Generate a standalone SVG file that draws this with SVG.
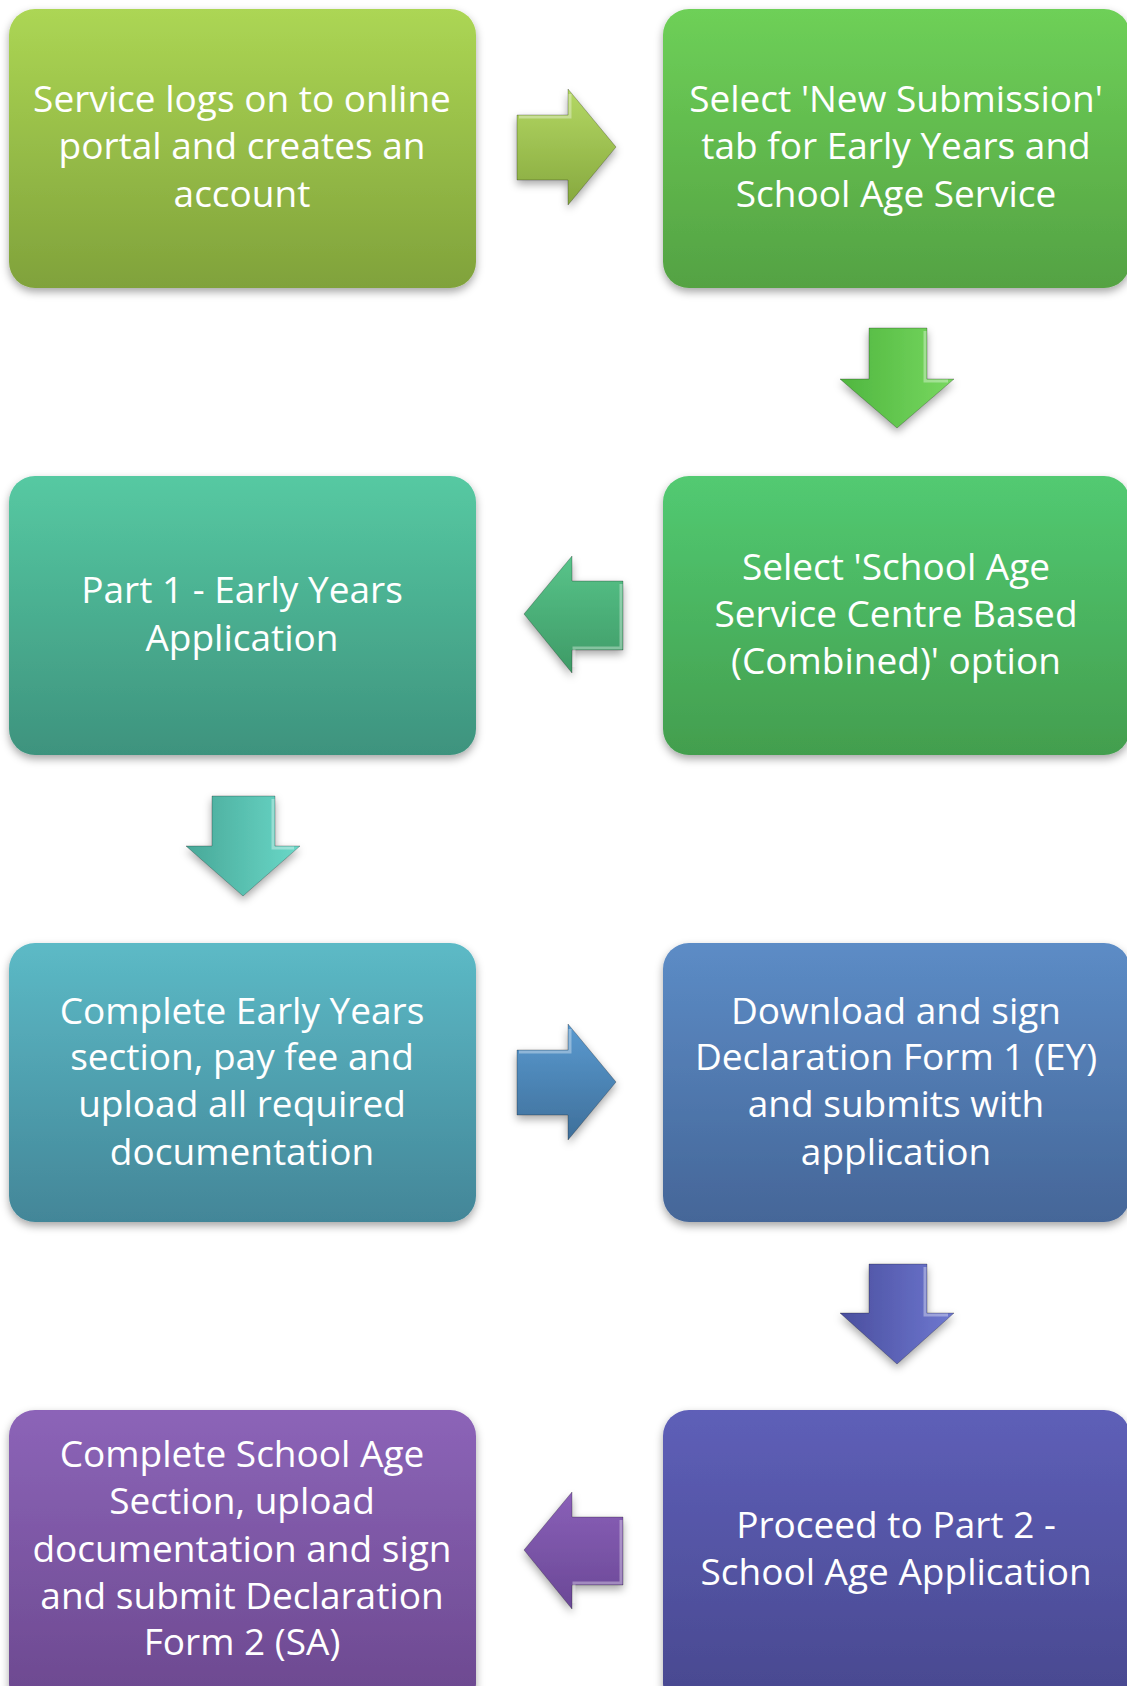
<svg xmlns="http://www.w3.org/2000/svg" width="1127" height="1686" viewBox="0 0 1127 1686">
<defs>
<filter id="sh" x="-10%" y="-10%" width="120%" height="125%"><feDropShadow dx="0" dy="4" stdDeviation="4" flood-color="#000" flood-opacity="0.35"/></filter>
<linearGradient id="g1" x1="0" y1="0" x2="0" y2="1"><stop offset="0" stop-color="#acd654"/><stop offset="1" stop-color="#80a23b"/></linearGradient>
<linearGradient id="g2" x1="0" y1="0" x2="0" y2="1"><stop offset="0" stop-color="#6ed058"/><stop offset="1" stop-color="#54a243"/></linearGradient>
<linearGradient id="g3" x1="0" y1="0" x2="0" y2="1"><stop offset="0" stop-color="#56c9a2"/><stop offset="1" stop-color="#3e937e"/></linearGradient>
<linearGradient id="g4" x1="0" y1="0" x2="0" y2="1"><stop offset="0" stop-color="#52ca72"/><stop offset="1" stop-color="#439e4e"/></linearGradient>
<linearGradient id="g5" x1="0" y1="0" x2="0" y2="1"><stop offset="0" stop-color="#5cbac6"/><stop offset="1" stop-color="#438698"/></linearGradient>
<linearGradient id="g6" x1="0" y1="0" x2="0" y2="1"><stop offset="0" stop-color="#5c8cc6"/><stop offset="1" stop-color="#456698"/></linearGradient>
<linearGradient id="g7" x1="0" y1="0" x2="0" y2="1"><stop offset="0" stop-color="#5e5fb8"/><stop offset="1" stop-color="#48488e"/></linearGradient>
<linearGradient id="g8" x1="0" y1="0" x2="0" y2="1"><stop offset="0" stop-color="#8c64b8"/><stop offset="1" stop-color="#6b488e"/></linearGradient>
<linearGradient id="a1" x1="0" y1="0" x2="0" y2="1"><stop offset="0" stop-color="#b4d864"/><stop offset="1" stop-color="#86a83e"/></linearGradient>
<linearGradient id="a2" x1="0" y1="0" x2="1" y2="0"><stop offset="0" stop-color="#4fb63f"/><stop offset="1" stop-color="#78d860"/></linearGradient>
<linearGradient id="a3" x1="0" y1="0" x2="0" y2="1"><stop offset="0" stop-color="#58c48a"/><stop offset="1" stop-color="#3e9a66"/></linearGradient>
<linearGradient id="a4" x1="0" y1="0" x2="1" y2="0"><stop offset="0" stop-color="#48a898"/><stop offset="1" stop-color="#6ad8c8"/></linearGradient>
<linearGradient id="a5" x1="0" y1="0" x2="0" y2="1"><stop offset="0" stop-color="#5a9ad0"/><stop offset="1" stop-color="#3e6f9a"/></linearGradient>
<linearGradient id="a6" x1="0" y1="0" x2="1" y2="0"><stop offset="0" stop-color="#4a4e9e"/><stop offset="1" stop-color="#6e78d0"/></linearGradient>
<linearGradient id="a7" x1="0" y1="0" x2="0" y2="1"><stop offset="0" stop-color="#8a60b8"/><stop offset="1" stop-color="#6a4896"/></linearGradient>
</defs>
<style>
.box{filter:url(#sh)}
.t{font-family:"Open Sans","Liberation Sans",sans-serif;font-size:37px;fill:#fff;text-anchor:middle}
.arr{stroke:#000;stroke-opacity:0.25;stroke-width:1;filter:url(#sh)}
.hl{fill:none;stroke:#fff;stroke-opacity:0.35;stroke-width:3}
</style>
<g id="connectors">
<g id="c1"><polygon class="arr" fill="url(#a1)" points="517,115 568,115 568,89 616,147 568,205 568,180 517,180"/><polyline class="hl" points="519,117 570,117 570,94"/></g>
<g id="c2"><polygon class="arr" fill="url(#a2)" points="869,328 927,328 927,379 954,379 897,428 840,379 869,379"/><polyline class="hl" points="925,331 925,381 948,381"/></g>
<g id="c3"><polygon class="arr" fill="url(#a3)" points="623,581 572,581 572,556 524,614 572,673 572,650 623,650"/><polyline class="hl" points="621,584 621,648 574,648 574,667"/></g>
<g id="c4"><polygon class="arr" fill="url(#a4)" points="212,796 275,796 275,846 300,846 243,896 186,846 212,846"/><polyline class="hl" points="273,799 273,848 294,848"/></g>
<g id="c5"><polygon class="arr" fill="url(#a5)" points="517,1050 568,1050 568,1024 616,1082 568,1140 568,1115 517,1115"/><polyline class="hl" points="519,1052 570,1052 570,1029"/></g>
<g id="c6"><polygon class="arr" fill="url(#a6)" points="869,1264 927,1264 927,1313 954,1313 897,1364 840,1313 869,1313"/><polyline class="hl" points="925,1267 925,1315 948,1315"/></g>
<g id="c7"><polygon class="arr" fill="url(#a7)" points="623,1517 572,1517 572,1492 524,1550 572,1609 572,1585 623,1585"/><polyline class="hl" points="621,1520 621,1583 574,1583 574,1603"/></g>
</g>
<g id="n1"><rect class="box" x="9" y="9" width="467" height="279" rx="26" fill="url(#g1)"/><text class="t" x="242" y="112">Service logs on to online</text><text class="t" x="242" y="159">portal and creates an</text><text class="t" x="242" y="207">account</text></g>
<g id="n2"><rect class="box" x="663" y="9" width="467" height="279" rx="26" fill="url(#g2)"/><text class="t" x="896" y="112">Select 'New Submission'</text><text class="t" x="896" y="159">tab for Early Years and</text><text class="t" x="896" y="207">School Age Service</text></g>
<g id="n3"><rect class="box" x="663" y="476" width="467" height="279" rx="26" fill="url(#g4)"/><text class="t" x="896" y="580">Select 'School Age</text><text class="t" x="896" y="627">Service Centre Based</text><text class="t" x="896" y="674">(Combined)' option</text></g>
<g id="n4"><rect class="box" x="9" y="476" width="467" height="279" rx="26" fill="url(#g3)"/><text class="t" x="242" y="603">Part 1 - Early Years</text><text class="t" x="242" y="651">Application</text></g>
<g id="n5"><rect class="box" x="9" y="943" width="467" height="279" rx="26" fill="url(#g5)"/><text class="t" x="242" y="1024">Complete Early Years</text><text class="t" x="242" y="1070">section, pay fee and</text><text class="t" x="242" y="1117">upload all required</text><text class="t" x="242" y="1165">documentation</text></g>
<g id="n6"><rect class="box" x="663" y="943" width="467" height="279" rx="26" fill="url(#g6)"/><text class="t" x="896" y="1024">Download and sign</text><text class="t" x="896" y="1070">Declaration Form 1 (EY)</text><text class="t" x="896" y="1117">and submits with</text><text class="t" x="896" y="1165">application</text></g>
<g id="n7"><rect class="box" x="663" y="1410" width="467" height="300" rx="26" fill="url(#g7)"/><text class="t" x="896" y="1538">Proceed to Part 2 -</text><text class="t" x="896" y="1585">School Age Application</text></g>
<g id="n8"><rect class="box" x="9" y="1410" width="467" height="300" rx="26" fill="url(#g8)"/><text class="t" x="242" y="1467">Complete School Age</text><text class="t" x="242" y="1514">Section, upload</text><text class="t" x="242" y="1562">documentation and sign</text><text class="t" x="242" y="1609">and submit Declaration</text><text class="t" x="242" y="1655">Form 2 (SA)</text></g>
</svg>
